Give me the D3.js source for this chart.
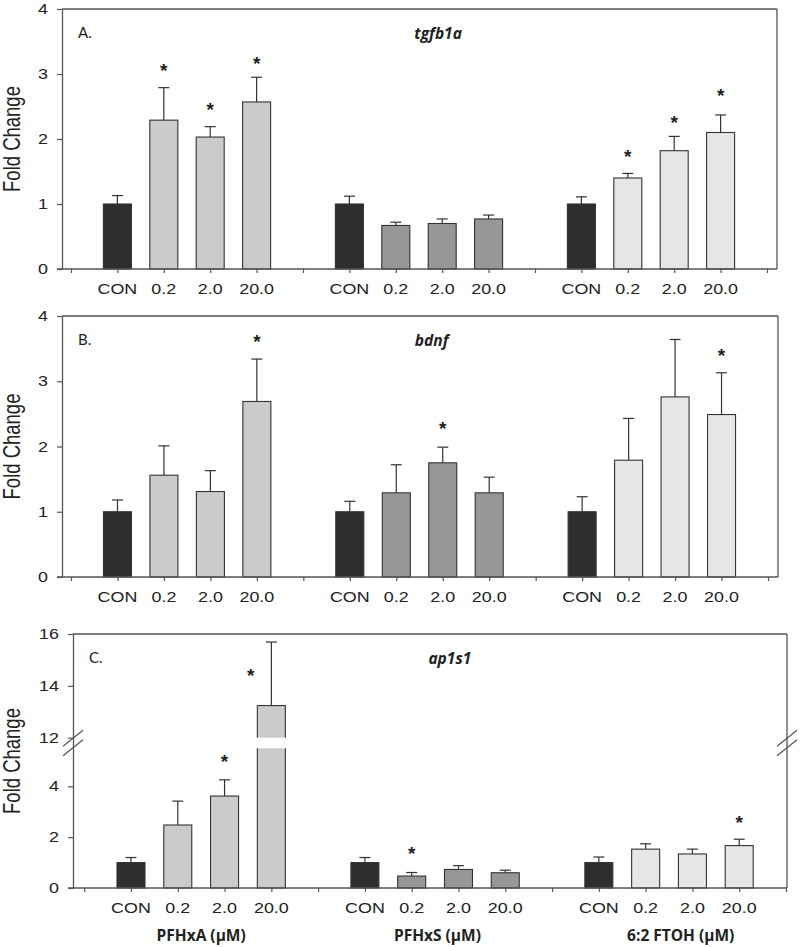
<!DOCTYPE html>
<html><head><meta charset="utf-8">
<script src="https://cdn.jsdelivr.net/npm/d3@7"></script>
<style>body{margin:0;background:#fff}svg{display:block}</style>
</head><body>
<svg id="c" width="800" height="947"></svg>
<script>
// ---------- data ----------
const categories = ["CON", "0.2", "2.0", "20.0"];
const groups = ["PFHxA (\u00b5M)", "PFHxS (\u00b5M)", "6:2 FTOH (\u00b5M)"];
const panelLetters = ["A.", "B.", "C."];
const genes = ["tgfb1a", "bdnf", "ap1s1"];

// means, order: PFHxA CON,0.2,2.0,20.0 | PFHxS ... | 6:2 FTOH ...
const tgfb1aMean = [1.00, 2.29, 2.03, 2.57, 1.00, 0.67, 0.70, 0.77, 1.00, 1.40, 1.82, 2.10];
const tgfb1aSE   = [0.13, 0.50, 0.16, 0.38, 0.12, 0.05, 0.07, 0.06, 0.11, 0.07, 0.22, 0.27];
const bdnfMean   = [1.00, 1.56, 1.31, 2.69, 1.00, 1.29, 1.75, 1.29, 1.00, 1.79, 2.76, 2.49];
const bdnfSE     = [0.18, 0.45, 0.32, 0.65, 0.16, 0.43, 0.24, 0.24, 0.23, 0.64, 0.88, 0.64];
const ap1s1Mean  = [1.00, 2.48, 3.62, 13.24, 1.00, 0.47, 0.73, 0.60, 1.00, 1.53, 1.34, 1.67];
const ap1s1SE    = [0.20, 0.94, 0.64, 2.45, 0.20, 0.14, 0.15, 0.10, 0.22, 0.21, 0.19, 0.25];

// significance stars: [x position (category units), y value]
const tgfb1aStars = [[2, 3.11], [3, 2.51], [4, 3.23], [12, 1.79], [13, 2.32], [14, 2.73]];
const bdnfStars   = [[4, 3.67], [8, 2.33], [14, 3.46]];
const ap1s1Stars  = [[3, 5.13], [3.56, 14.54], [7, 1.51], [14, 2.74]];

const ticksAB = [0, 1, 2, 3, 4];
const ticksC = [0, 2, 4, 12, 14, 16];
const groupLabelPos = [2.5, 7.55, 12.75];

// ---------- drawing ----------
const svg = d3.select("#c");
const fills = ["#2e2e2e", "#cbcbcb", "#979797", "#e6e6e6"]; // CON, PFHxA, PFHxS, FTOH
const axisCol = "#555";
const SX = 1.28; // horizontal stretch of Arial-like labels

function stretchedText(g, x, y, txt, anchor, size) {
  return g.append("text")
    .attr("transform", `translate(${x},${y}) scale(${SX},1)`)
    .attr("text-anchor", anchor)
    .attr("font-family", "Liberation Sans, Arial, sans-serif")
    .attr("font-size", size)
    .attr("fill", "#222")
    .text(txt);
}

const panels = [
  {mean: tgfb1aMean, se: tgfb1aSE, stars: tgfb1aStars, ticks: ticksAB,
   y: d3.scaleLinear().domain([0, 4]).range([269, 9]),
   x: d3.scaleLinear().domain([0, 15]).range([71, 767]), left: 62, right: 777},
  {mean: bdnfMean, se: bdnfSE, stars: bdnfStars, ticks: ticksAB,
   y: d3.scaleLinear().domain([0, 4]).range([577, 316]),
   x: d3.scaleLinear().domain([0, 15]).range([71, 768]), left: 62, right: 778},
  {mean: ap1s1Mean, se: ap1s1SE, stars: ap1s1Stars, ticks: ticksC, broken: true,
   y: d3.scaleLinear().domain([0, 5.5, 12, 16]).range([888, 748.3, 737.7, 634]),
   x: d3.scaleLinear().domain([0, 15]).range([84.2, 786]), left: 73, right: 787}
];

const barW = 28;
const capW = 11;

panels.forEach((p, pi) => {
  const g = svg.append("g");
  const y0 = p.y(0), yTop = p.y(p.ticks[p.ticks.length - 1]);
  const pos = i => Math.floor(i / 4) * 5 + (i % 4) + 1;

  // bars
  p.mean.forEach((m, i) => {
    const cx = p.x(pos(i));
    const fill = (i % 4 === 0) ? fills[0] : fills[1 + Math.floor(i / 4)];
    const eTop = p.y(m + p.se[i]);
    g.append("line").attr("x1", cx).attr("x2", cx).attr("y1", p.y(m)).attr("y2", eTop)
      .attr("stroke", "#333").attr("stroke-width", 1.2);
    g.append("line").attr("x1", cx - capW / 2).attr("x2", cx + capW / 2).attr("y1", eTop).attr("y2", eTop)
      .attr("stroke", "#333").attr("stroke-width", 1.2);
    g.append("rect").attr("x", cx - barW / 2).attr("y", p.y(m)).attr("width", barW)
      .attr("height", y0 - p.y(m)).attr("fill", fill).attr("stroke", "#333").attr("stroke-width", 1.1);
    if (p.broken && m > 12) {
      g.append("rect").attr("x", cx - barW / 2 - 2).attr("y", p.y(12)).attr("width", barW + 4)
        .attr("height", p.y(5.5) - p.y(12)).attr("fill", "#fff");
    }
  });

  // stars
  p.stars.forEach(([sx, sv]) => {
    g.append("text").attr("x", p.x(sx)).attr("y", p.y(sv) + 10.5)
      .attr("text-anchor", "middle").attr("font-family", "Liberation Sans, Arial, sans-serif")
      .attr("font-weight", "bold").attr("font-size", 19).attr("fill", "#222").text("*");
  });

  // frame
  g.append("line").attr("x1", p.left).attr("x2", p.right).attr("y1", yTop).attr("y2", yTop)
    .attr("stroke", axisCol).attr("stroke-width", 1.3);
  g.append("line").attr("x1", p.right).attr("x2", p.right).attr("y1", yTop).attr("y2", y0)
    .attr("stroke", axisCol).attr("stroke-width", 1.3);

  // y axis
  const ya = g.append("g").attr("transform", `translate(${p.left},0)`)
    .call(d3.axisLeft(p.y).tickValues(p.ticks).tickSize(5).tickSizeOuter(0).tickFormat(""));
  ya.select(".domain").attr("stroke", axisCol).attr("stroke-width", 1.3);
  ya.selectAll(".tick line").attr("stroke", axisCol).attr("stroke-width", 1.2);
  p.ticks.forEach(t => stretchedText(g, p.left - 14, p.y(t) + 5, String(t), "end", 14));

  // x axis
  const xTicks = d3.range(0, 16);
  const xa = g.append("g").attr("transform", `translate(0,${y0})`)
    .call(d3.axisBottom(p.x).tickValues(xTicks).tickSize(4).tickSizeOuter(0).tickFormat(""));
  xa.select(".domain").attr("d", `M${p.left - 5},0H${p.right}`).attr("stroke", axisCol).attr("stroke-width", 1.3);
  xa.selectAll(".tick line").attr("stroke", axisCol).attr("stroke-width", 1.2);
  for (let i = 0; i < 12; i++) {
    stretchedText(g, p.x(pos(i)), y0 + 25, categories[i % 4], "middle", 14);
  }

  // axis breaks
  if (p.broken) {
    [p.left, p.right].forEach(ax => {
      [p.y(12) + 0.5, p.y(5.5) - 0.5].forEach(cy => {
        g.append("line").attr("x1", ax - 10).attr("y1", cy + 8).attr("x2", ax + 10).attr("y2", cy - 8)
          .attr("stroke", axisCol).attr("stroke-width", 1.3);
      });
    });
  }

  // y title
  g.append("text")
    .attr("transform", `translate(20,${(y0 + yTop) / 2}) scale(${SX},1) rotate(-90)`)
    .attr("text-anchor", "middle").attr("font-family", "Liberation Sans, Arial, sans-serif")
    .attr("font-size", 18.5).attr("fill", "#222").text("Fold Change");

  // panel letter & gene
  g.append("text").attr("x", p.left + 16).attr("y", yTop + 29)
    .attr("font-family", "Lato, sans-serif").attr("font-size", 15).attr("fill", "#222").text(panelLetters[pi]);
  g.append("text").attr("x", p.x(7.4) + (pi === 2 ? -2 : 0)).attr("y", yTop + 30)
    .attr("font-family", "Open Sans, sans-serif").attr("font-weight", "bold").attr("font-style", "italic")
    .attr("font-size", 15.5).attr("fill", "#222").text(genes[pi]);

  // group labels (bottom panel)
  if (pi === 2) {
    groups.forEach((gl, k) => {
      g.append("text").attr("x", p.x(groupLabelPos[k])).attr("y", 941)
        .attr("text-anchor", "middle").attr("font-family", "Open Sans, sans-serif").attr("font-weight", "bold")
        .attr("font-size", 15.5).attr("fill", "#222").text(gl);
    });
  }
});
</script>
</body></html>
